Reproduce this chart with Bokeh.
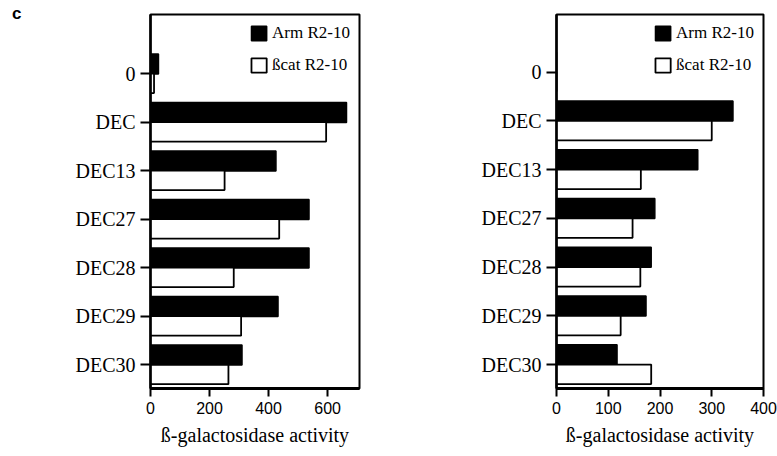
from bokeh.plotting import figure
from bokeh.models import Range1d, FixedTicker, ColumnDataSource, Legend, LegendItem, Div
from bokeh.layouts import row
from bokeh.embed import file_html
from bokeh.resources import INLINE

categories = ["0", "DEC", "DEC13", "DEC27", "DEC28", "DEC29", "DEC30"]
arm_left = [27, 664, 425, 537, 537, 432, 310]
bcat_left = [12, 595, 251, 436, 282, 307, 264]
arm_right = [0, 341, 273, 190, 183, 173, 117]
bcat_right = [0, 300, 163, 147, 162, 124, 183]
xticks_left = [0, 200, 400, 600]
xticks_right = [0, 100, 200, 300, 400]
series_names = ["Arm R2-10", "ßcat R2-10"]
x_label = "ß-galactosidase activity"
panel_letter = "c"

SERIF = "'Liberation Serif', 'Times New Roman', serif"
SANS = "'Liberation Sans', Arial, sans-serif"


def make_panel(arm, bcat, xmax, xticks, ytop, ybot, w, h, border_left, border_right,
               border_top, border_bottom):
    p = figure(width=w, height=h, output_backend="svg", toolbar_location=None,
               x_range=Range1d(0, xmax), y_range=Range1d(ybot, ytop),
               min_border_left=border_left, min_border_right=border_right,
               min_border_top=border_top, min_border_bottom=border_bottom,
               margin=0)
    idx = list(range(len(categories)))
    src = ColumnDataSource(dict(
        y_arm=[i - 0.2 for i in idx], y_bcat=[i + 0.2 for i in idx],
        arm=arm, bcat=bcat))
    r1 = p.hbar(y="y_arm", right="arm", left=0, height=0.41, source=src,
                fill_color="black", line_color="black", line_width=1.5)
    r2 = p.hbar(y="y_bcat", right="bcat", left=0, height=0.4, source=src,
                fill_color="white", line_color="black", line_width=1.8)
    p.xgrid.visible = False
    p.ygrid.visible = False
    p.background_fill_color = "white"
    p.border_fill_color = "white"
    p.outline_line_color = "black"
    p.outline_line_width = 2
    p.outline_line_alpha = 1

    ya = p.yaxis[0]
    ya.ticker = FixedTicker(ticks=idx)
    ya.major_label_overrides = {i: c for i, c in enumerate(categories)}
    ya.major_label_text_font = SERIF
    ya.major_label_text_font_size = "20px"
    ya.major_label_text_color = "black"
    ya.major_tick_out = 10
    ya.major_tick_in = 0
    ya.major_tick_line_width = 2
    ya.minor_tick_line_color = None
    ya.axis_line_width = 2.5
    ya.major_label_standoff = 5

    xa = p.xaxis[0]
    xa.ticker = FixedTicker(ticks=xticks)
    xa.major_label_text_font = SANS
    xa.major_label_text_font_size = "16px"
    xa.major_label_text_color = "black"
    xa.major_tick_out = 8
    xa.major_tick_in = 0
    xa.major_tick_line_width = 2
    xa.minor_tick_line_color = None
    xa.axis_line_width = 3
    xa.major_label_standoff = 5
    xa.axis_label = x_label
    xa.axis_label_text_font = SERIF
    xa.axis_label_text_font_size = "20px"
    xa.axis_label_text_font_style = "normal"
    xa.axis_label_text_color = "black"
    xa.axis_label_standoff = 7

    legend = Legend(items=[LegendItem(label=series_names[0], renderers=[r1]),
                           LegendItem(label=series_names[1], renderers=[r2])],
                    location="top_right")
    legend.margin = 5
    legend.padding = 4
    legend.spacing = 12
    legend.glyph_width = 19
    legend.glyph_height = 18
    legend.label_standoff = 4
    legend.label_text_font = SERIF
    legend.label_text_font_size = "17px"
    legend.label_text_color = "black"
    legend.border_line_alpha = 0
    legend.background_fill_alpha = 0
    legend.label_height = 18
    p.add_layout(legend)
    return p


letter = Div(text=panel_letter, width=22, height=40, margin=0,
             styles={"font-family": "'Liberation Sans', Arial, sans-serif",
                     "font-weight": "bold", "font-size": "17px",
                     "line-height": "17px", "padding-left": "12px",
                     "padding-top": "5px", "color": "black",
                     "box-sizing": "border-box"})

p1 = make_panel(arm_left, bcat_left, 708, xticks_left, -1.22, 6.49,
                366, 456, 128, 29, 10, 68)
p2 = make_panel(arm_right, bcat_right, 400, xticks_right, -1.18, 6.49,
                389, 456, 168, 14, 14, 66)

layout = row(letter, p1, p2, spacing=0, margin=0)
open("out.html", "w").write(file_html(layout, INLINE))
